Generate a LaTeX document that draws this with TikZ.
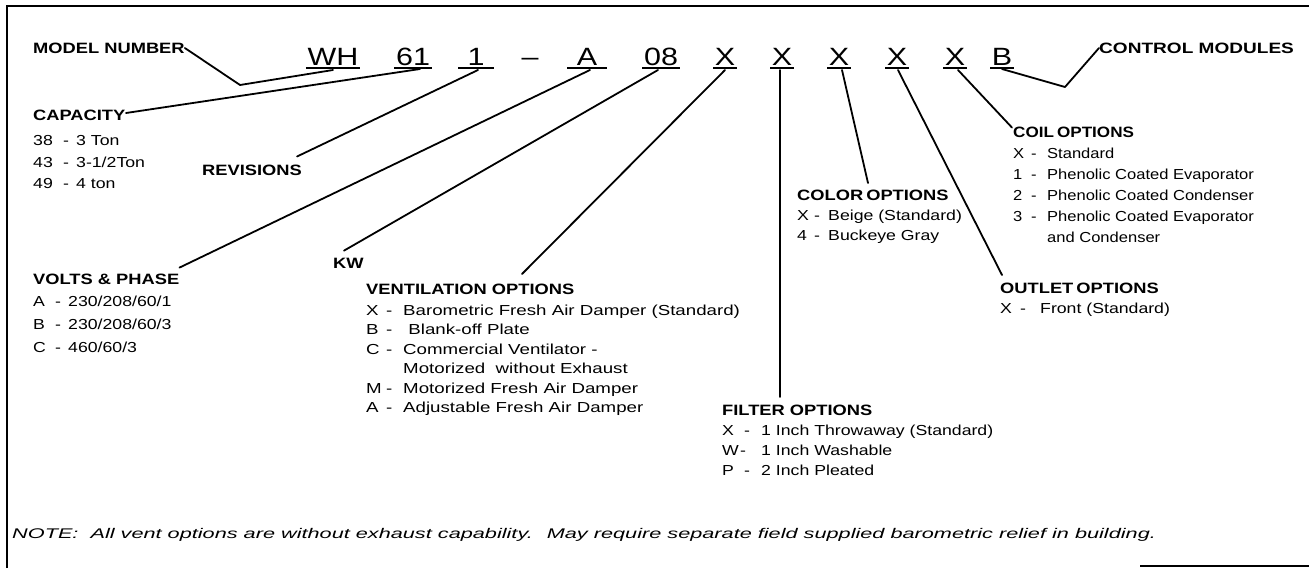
\documentclass[tikz,border=0pt]{standalone}
\usepackage{fontspec}
\setmainfont{Liberation Sans}[FakeStretch=1.22]
\newfontfamily\ventfont{Liberation Sans}[FakeStretch=1.29]
\newfontfamily\coilfont{Liberation Sans}[FakeStretch=1.14]
\newfontfamily\notefont{Liberation Sans}[FakeStretch=1.55]
\newfontfamily\ctrlfont{Liberation Sans}[FakeStretch=1.27]
\newcommand\itm[4]{\makebox[#1][l]{#3}\makebox[#2][l]{-}#4}
\begin{document}
\begin{tikzpicture}[x=1pt,y=-1pt,
  hd/.style={font=\fontsize{15}{15}\selectfont\bfseries, inner sep=0, anchor=west},
  blk/.style={align=left, inner sep=0, anchor=north west},
  code/.style={font=\fontsize{25}{25}\selectfont, inner xsep=1.5pt, inner ysep=0, anchor=base},
  lead/.style={line width=1.8pt, line cap=round, line join=round},
  uline/.style={line width=1.2pt},
  frame/.style={line width=1.6pt}]
\useasboundingbox (0,0) rectangle (1309,568);
% frame
\draw[frame] (7,568) -- (7,6) -- (1309,6);
\draw[frame] (1140,566) -- (1309,566);

% code row
\node[code] (wh) at (333,65) {WH};
\node[code] (c61) at (413,65) {61};
\node[code, minimum width=35pt] (c1) at (476,65) {1};
\node[code] (dash) at (530,65) {–};
\node[code, minimum width=39pt] (cA) at (587,65) {A};
\node[code] (c08) at (661,65) {08};
\node[code] (x1) at (725,65) {X};
\node[code] (x2) at (782,65) {X};
\node[code] (x3) at (839,65) {X};
\node[code] (x4) at (897,65) {X};
\node[code] (x5) at (955,65) {X};
\node[code] (cB) at (1002,65) {B};
\foreach \n in {wh,c61,c1,cA,c08,x1,x2,x3,x4,x5,cB}
  \draw[uline] ([yshift=-3pt]\n.base west) -- ([yshift=-3pt]\n.base east);

% attachment points on underlines
\coordinate (p-wh) at (333,70);
\coordinate (p-61) at (420,69);
\coordinate (p-1) at (478,70);
\coordinate (p-A) at (590,70);
\coordinate (p-08) at (658,70);
\coordinate (p-x1) at (725,70);
\coordinate (p-x2) at (780,70);
\coordinate (p-x3) at (842,70);
\coordinate (p-x4) at (898,70);
\coordinate (p-x5) at (958,70);
\coordinate (p-B) at (1002,69);

% labels
\node[hd] (model) at (33,48) {MODEL NUMBER};
\node[hd, font=\fontsize{15}{15}\selectfont\ctrlfont\bfseries] (control) at (1099,48) {CONTROL MODULES};
\node[hd] (rev) at (202,170) {REVISIONS};
\node[hd] (kw) at (333,263) {KW};

\node[blk, font=\fontsize{14.5}{21.5}\selectfont] (cap) at (33,109.5) {{\bfseries\fontsize{15}{22}\selectfont CAPACITY}\\[4pt]
  \itm{30pt}{13pt}{38}{3 Ton}\\
  \itm{30pt}{13pt}{43}{3-1/2Ton}\\
  \itm{30pt}{13pt}{49}{4 ton}};

\node[blk, font=\fontsize{14.5}{22.7}\selectfont] (volts) at (33,273.6) {{\bfseries\fontsize{15}{22}\selectfont VOLTS \& PHASE}\\
  \itm{22pt}{13pt}{A}{230/208/60/1}\\
  \itm{22pt}{13pt}{B}{230/208/60/3}\\
  \itm{22pt}{13pt}{C}{460/60/3}};

\node[blk, font=\fontsize{14.5}{19.5}\selectfont\ventfont] (vent) at (366,283.6) {{\rmfamily\bfseries\fontsize{15}{21}\selectfont VENTILATION OPTIONS}\\[1.5pt]
  \itm{20pt}{17pt}{X}{Barometric Fresh Air Damper (Standard)}\\
  \itm{20pt}{17pt}{B}{\ Blank-off Plate}\\
  \itm{20pt}{17pt}{C}{Commercial Ventilator -}\\
  \hspace*{37pt}Motorized \ without Exhaust\\
  \itm{20pt}{17pt}{M}{Motorized Fresh Air Damper}\\
  \itm{20pt}{17pt}{A}{Adjustable Fresh Air Damper}};

\node[blk, font=\fontsize{14.5}{20}\selectfont] (filter) at (722,404.6) {{\bfseries\fontsize{15}{20}\selectfont FILTER OPTIONS}\\
  \itm{22pt}{17pt}{X}{1 Inch Throwaway (Standard)}\\
  \itm{18pt}{21pt}{W}{1 Inch Washable}\\
  \itm{22pt}{17pt}{P}{2 Inch Pleated}};

\node[blk, font=\fontsize{14.5}{20}\selectfont] (color) at (797,189.6) {{\bfseries\fontsize{15}{20}\selectfont COLOR\hspace{3pt}OPTIONS}\\
  \itm{17pt}{14pt}{X}{Beige (Standard)}\\
  \itm{17pt}{14pt}{4}{Buckeye Gray}};

\node[blk, font=\fontsize{14.5}{21}\selectfont\coilfont] (coil) at (1013,126.6) {{\bfseries\fontsize{15}{21}\selectfont COIL\hspace{3pt}OPTIONS}\\
  \itm{18pt}{16pt}{X}{Standard}\\
  \itm{18pt}{16pt}{1}{Phenolic Coated Evaporator}\\
  \itm{18pt}{16pt}{2}{Phenolic Coated Condenser}\\
  \itm{18pt}{16pt}{3}{Phenolic Coated Evaporator}\\
  \hspace*{34pt}and Condenser};

\node[blk, font=\fontsize{14.5}{20}\selectfont] (outlet) at (1000,282.6) {{\bfseries\fontsize{15}{20}\selectfont OUTLET\hspace{3pt}OPTIONS}\\
  \itm{20pt}{20pt}{X}{Front (Standard)}};

\node[inner sep=0, anchor=west, font=\fontsize{14}{14}\selectfont\notefont\itshape] (note) at (12,535)
  {NOTE: \ All vent options are without exhaust capability. \ May require separate field supplied barometric relief in building.};

% connectors
\draw[lead] (model.east) -- (240,85) -- (p-wh);
\draw[lead] (cap.north west) ++(93,3.5) coordinate (capend) -- (p-61);
\draw[lead] ([xshift=-5pt,yshift=8pt]rev.north east) -- (p-1);
\draw[lead] ([yshift=6pt]volts.north east) -- (p-A);
\draw[lead] ([xshift=11pt,yshift=7pt]kw.north west) -- (p-08);
\draw[lead] (522,274) -- (p-x1);
\draw[lead] (780,397) -- (p-x2);
\draw[lead] (868,183) -- (p-x3);
\draw[lead] (1002,275) -- (p-x4);
\draw[lead] ([xshift=-1pt,yshift=-1pt]coil.north west) -- (p-x5);
\draw[lead] (p-B) -- (1065,87) -- (control.west);
\end{tikzpicture}
\end{document}
